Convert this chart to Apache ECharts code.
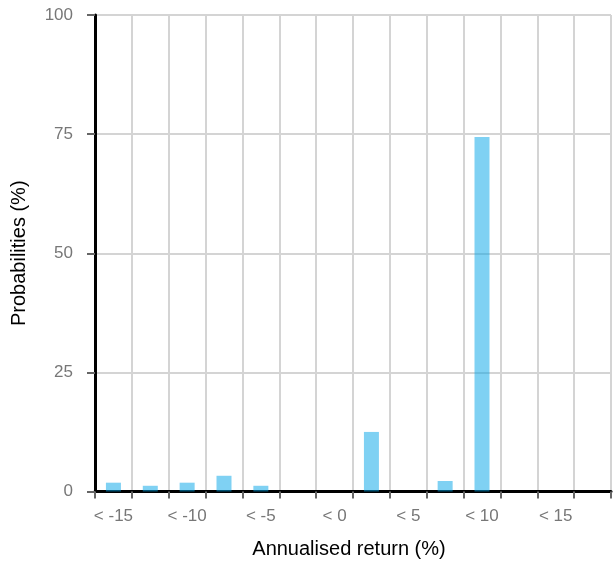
<!DOCTYPE html>
<html>
<head>
<meta charset="utf-8">
<script src="https://cdn.jsdelivr.net/npm/echarts@6/dist/echarts.min.js"></script>
<style>
html,body{margin:0;padding:0;background:#fff;}
#chart{width:613px;height:566px;}
</style>
</head>
<body>
<div id="chart"></div>
<script>
const categories = ['< -15','< -12.5','< -10','< -7.5','< -5','< -2.5','< 0','< 2.5','< 5','< 7.5','< 10','< 12.5','< 15','< 17.5'];
const probabilities = [1.85, 1.2, 1.85, 3.3, 1.2, 0, 0, 12.5, 0, 2.2, 74.4, 0, 0, 0];
const yTicks = [0, 25, 50, 75, 100];

const chart = echarts.init(document.getElementById('chart'), null, {renderer: 'canvas'});
const font = "'Liberation Sans', Arial, sans-serif";
chart.setOption({
  animation: false,
  grid: {left: 95, right: 2, top: 15, bottom: 74.5, containLabel: false, outerBoundsMode: 'none'},
  xAxis: {
    type: 'category',
    data: categories,
    boundaryGap: true,
    name: 'Annualised return (%)',
    nameLocation: 'middle',
    nameGap: 48,
    nameTextStyle: {color: '#000', fontSize: 20, fontFamily: font, padding: [0, 8, 0, 0]},
    axisLine: {lineStyle: {color: '#000', width: 3}},
    axisTick: {show: true, interval: 0, length: 7, lineStyle: {color: '#666', width: 2}},
    axisLabel: {interval: 1, color: '#777', fontSize: 17, fontFamily: font, margin: 16},
    splitLine: {show: true, interval: 0, lineStyle: {color: '#d4d4d4', width: 2}}
  },
  yAxis: {
    type: 'value',
    min: yTicks[0],
    max: yTicks[yTicks.length - 1],
    interval: 25,
    name: 'Probabilities (%)',
    nameLocation: 'middle',
    nameGap: 66,
    nameRotate: 90,
    nameTextStyle: {color: '#000', fontSize: 20, fontFamily: font},
    axisLine: {show: true, lineStyle: {color: '#000', width: 3}},
    axisTick: {show: true, length: 8, lineStyle: {color: '#666', width: 2}},
    axisLabel: {color: '#777', fontSize: 17, fontFamily: font, margin: 22},
    splitLine: {show: true, lineStyle: {color: '#d4d4d4', width: 2}}
  },
  series: [{
    type: 'bar',
    data: probabilities,
    barWidth: 15,
    itemStyle: {color: 'rgb(0,163,232)', opacity: 0.5}
  }]
});
</script>
</body>
</html>
